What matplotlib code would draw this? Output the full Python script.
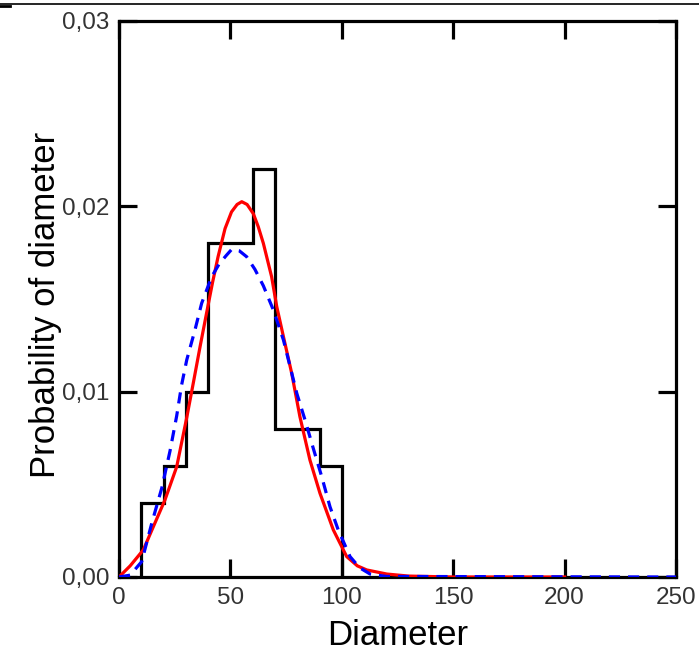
import matplotlib
matplotlib.use("Agg")
import matplotlib.pyplot as plt
from matplotlib.lines import Line2D

# ---- data ----
bin_edges = [10, 20, 30, 40, 50, 60, 70, 80, 90, 100]
bin_values = [0.004, 0.006, 0.010, 0.018, 0.018, 0.022, 0.008, 0.008, 0.006]

red_x = [0, 5, 10.9, 15, 20.6, 25.9, 30.4, 33.4, 36.5, 39.4, 42, 44.5, 47.6, 50.5, 53, 55.1,
         57.5, 60.3, 62.5, 64.8, 68.5, 70.8, 73.8, 77.5, 81.2, 85.7, 90.2, 96.2, 102.2,
         107, 111.2, 120.2, 130, 150, 200]
red_y = [0.0, 0.0006, 0.00146, 0.0026, 0.00415, 0.00595, 0.0086, 0.0105, 0.0125, 0.0143,
         0.0159, 0.0173, 0.0188, 0.0197, 0.0201, 0.02025, 0.0201, 0.0196, 0.0189, 0.0180,
         0.0162, 0.01459, 0.01297, 0.0110, 0.00865, 0.00631, 0.00452, 0.00254, 0.0011,
         0.0006, 0.00038, 0.00016, 0.00005, 0.0, 0.0]

blue_x = [0, 5, 10.2, 14.7, 19.2, 22.9, 25.9, 28.1, 30.4, 34.1, 37.1, 41.6, 45, 48.3,
          50.6, 54, 57.3, 61, 64.8, 69.3, 73.8, 76.8, 79.8, 83.5, 87.2, 91.0, 94.7,
          98.4, 103.7, 108, 112.7, 120, 250]
blue_y = [0.0, 0.0001, 0.00083, 0.0029, 0.0048, 0.0068, 0.0087, 0.01036, 0.01171,
          0.01333, 0.01477, 0.0162, 0.0169, 0.01737, 0.01768, 0.0176, 0.01728, 0.0166,
          0.01571, 0.0144, 0.01279, 0.01135, 0.00991, 0.00847, 0.00694, 0.00541,
          0.00379, 0.00254, 0.0011, 0.0005, 0.00016, 0.00003, 0.0]

x_ticks = [0, 50, 100, 150, 200, 250]
x_tick_labels = ["0", "50", "100", "150", "200", "250"]
y_ticks = [0.0, 0.01, 0.02, 0.03]
y_tick_labels = ["0,00", "0,01", "0,02", "0,03"]

# ---- figure ----
plt.rcParams['font.family'] = ['Liberation Sans', 'DejaVu Sans']
fig = plt.figure(figsize=(6.99, 6.61), dpi=100)
ax = fig.add_axes([119 / 699, 1 - 577 / 661, 557 / 699, 556 / 661])

lw = 2.3
ax.stairs(bin_values, bin_edges, color='black', linewidth=lw, baseline=0, zorder=2)
ax.plot(red_x, red_y, color='#ff0000', linewidth=lw, zorder=3)
ax.plot(blue_x, blue_y, color='#0000ff', linewidth=lw, dashes=(3.5, 2.5), zorder=4)

ax.set_xlim(0, 250)
ax.set_ylim(0, 0.03)
ax.set_xticks(x_ticks)
ax.set_xticklabels(x_tick_labels)
ax.set_yticks(y_ticks)
ax.set_yticklabels(y_tick_labels)
ax.tick_params(direction='in', length=13, width=lw, top=True, right=True,
               labelsize=17.5, labelcolor='#333333', pad=7)
ax.tick_params(axis='x', pad=7)
for s in ax.spines.values():
    s.set_linewidth(lw)

ax.set_xlabel("Diameter", fontsize=25)
ax.set_ylabel("Probability of diameter", fontsize=25)
ax.xaxis.set_label_coords(0.5, -0.076)
ax.yaxis.set_label_coords(-0.103, 0.49)

fig.add_artist(Line2D([0, 1], [1 - 3.5 / 661] * 2, color='black', linewidth=1.2,
                      transform=fig.transFigure))
fig.add_artist(Line2D([0, 10 / 699], [1 - 6 / 661] * 2, color='black', linewidth=2,
                      transform=fig.transFigure))

fig.savefig("out.png", dpi=100)
